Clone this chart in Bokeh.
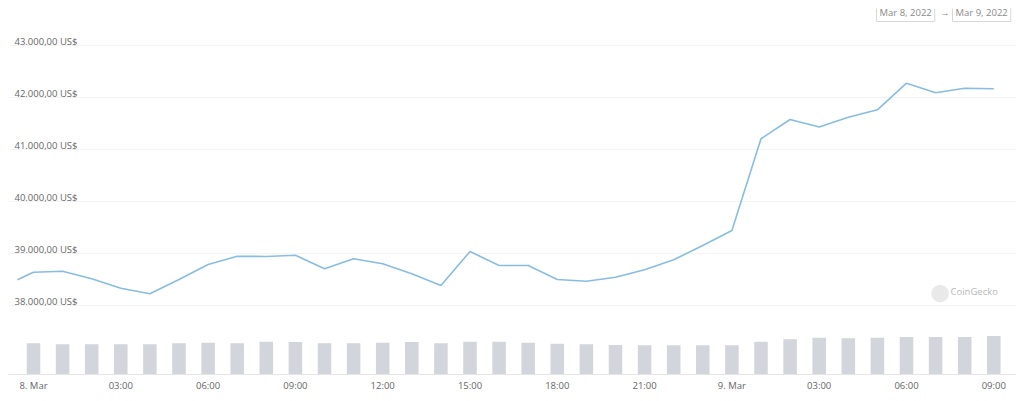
import pandas as pd
from bokeh.plotting import figure
from bokeh.models import Range1d, FixedTicker, Label
from bokeh.embed import file_html
from bokeh.resources import INLINE

# ---- data ----
hours = list(pd.date_range("2022-03-08 00:00", "2022-03-09 09:00", freq="h"))
price_times = [pd.Timestamp("2022-03-07 23:27")] + hours
price = [38494,
         38640, 38660, 38513, 38333, 38225, 38500, 38788, 38948, 38942, 38967,
         38706, 38898, 38802, 38610, 38385, 39038, 38769, 38769, 38500, 38467,
         38544, 38687, 38879, 39154, 39442, 41206, 41577, 41433, 41621, 41763,
         42275, 42090, 42179, 42167]
volume_bn = [1.56, 1.51, 1.51, 1.51, 1.51, 1.56, 1.59, 1.56, 1.64, 1.62,
             1.56, 1.56, 1.59, 1.62, 1.56, 1.64, 1.64, 1.59, 1.54, 1.51,
             1.47, 1.46, 1.46, 1.46, 1.46, 1.64, 1.76, 1.84, 1.81, 1.84,
             1.87, 1.87, 1.87, 1.92]
y_ticks = [38000, 39000, 40000, 41000, 42000, 43000]
y_tick_labels = ["38.000,00 US$", "39.000,00 US$", "40.000,00 US$",
                 "41.000,00 US$", "42.000,00 US$", "43.000,00 US$"]
x_tick_times = ["2022-03-08 00:00", "2022-03-08 03:00", "2022-03-08 06:00",
                "2022-03-08 09:00", "2022-03-08 12:00", "2022-03-08 15:00",
                "2022-03-08 18:00", "2022-03-08 21:00", "2022-03-09 00:00",
                "2022-03-09 03:00", "2022-03-09 06:00", "2022-03-09 09:00"]
x_tick_labels = ["8. Mar", "03:00", "06:00", "09:00", "12:00", "15:00",
                 "18:00", "21:00", "9. Mar", "03:00", "06:00", "09:00"]
date_from, date_to = "Mar 8, 2022", "Mar 9, 2022"

# ---- figure ----
t0 = pd.Timestamp("2022-03-08 00:00")
HOUR = 3600 * 1000.0
def ms(t):
    return pd.Timestamp(t).value / 1e6

x_start = ms(t0) - 0.859 * HOUR
x_end = ms(t0) + 33.78 * HOUR

p = figure(frame_width=1008, frame_height=366, x_axis_type="datetime",
           output_backend="svg", toolbar_location=None,
           x_range=Range1d(x_start, x_end), y_range=Range1d(36673, 43711.5),
           y_axis_location=None, min_border_left=8, min_border_right=0,
           min_border_top=8, min_border_bottom=0,
           background_fill_color="white",
           border_fill_color="white", outline_line_color=None)
p.extra_y_ranges = {"vol": Range1d(0, 18.3)}

p.xgrid.grid_line_color = None
p.ygrid.ticker = FixedTicker(ticks=y_ticks)
p.ygrid.grid_line_color = "#f4f4f4"

xt = [ms(t) for t in x_tick_times]
p.xaxis.ticker = FixedTicker(ticks=xt)
p.xaxis.major_label_overrides = {v: l for v, l in zip(xt, x_tick_labels)}
p.xaxis.axis_line_color = "#e6e6e6"
p.xaxis.major_tick_line_color = None
p.xaxis.major_tick_out = 0
p.xaxis.major_tick_in = 0
p.xaxis.minor_tick_line_color = None
p.xaxis.minor_tick_out = 0
p.xaxis.major_label_text_font = "Open Sans"
p.xaxis.major_label_text_font_size = "9.5px"
p.xaxis.major_label_text_color = "#666666"
p.xaxis.major_label_standoff = 4

bar_w = 0.465 * HOUR
p.vbar(x=hours, top=volume_bn, width=bar_w, y_range_name="vol",
       fill_color="#d2d5dc", line_color=None)
p.line(x=price_times, y=price, line_color="#88bde2", line_width=1.6)

for v, lab in zip(y_ticks, y_tick_labels):
    p.add_layout(Label(x=6, x_units="screen", y=v, y_units="data", text=lab,
                       text_font="Open Sans", text_font_size="9.5px",
                       text_color="#666666", text_baseline="middle",
                       y_offset=4))

# date range boxes
p.add_layout(Label(x=868, x_units="screen", y=362.5, y_units="screen",
                   text=date_from, text_font="Open Sans", text_font_size="9.5px",
                   text_color="#8a8a8a", text_baseline="middle",
                   border_line_color="#d8d8d8", background_fill_color="white",
                   padding=3))
p.add_layout(Label(x=932, x_units="screen", y=362.5, y_units="screen",
                   text="→", text_font="Open Sans", text_font_size="9px",
                   text_color="#8a8a8a", text_baseline="middle"))
p.add_layout(Label(x=944, x_units="screen", y=362.5, y_units="screen",
                   text=date_to, text_font="Open Sans", text_font_size="9.5px",
                   text_color="#8a8a8a", text_baseline="middle",
                   border_line_color="#d8d8d8", background_fill_color="white",
                   padding=3))

# watermark
p.add_layout(Label(x=922, x_units="screen", y=83, y_units="screen",
                   text="⬤", text_font="DejaVu Sans", text_font_size="17px",
                   text_color="#e9e9e9", text_baseline="middle"))
p.add_layout(Label(x=942, x_units="screen", y=83, y_units="screen",
                   text="CoinGecko", text_font="Open Sans", text_font_size="9.5px",
                   text_color="#b8b8b8", text_baseline="middle"))

open("out.html", "w").write(file_html(p, INLINE))
